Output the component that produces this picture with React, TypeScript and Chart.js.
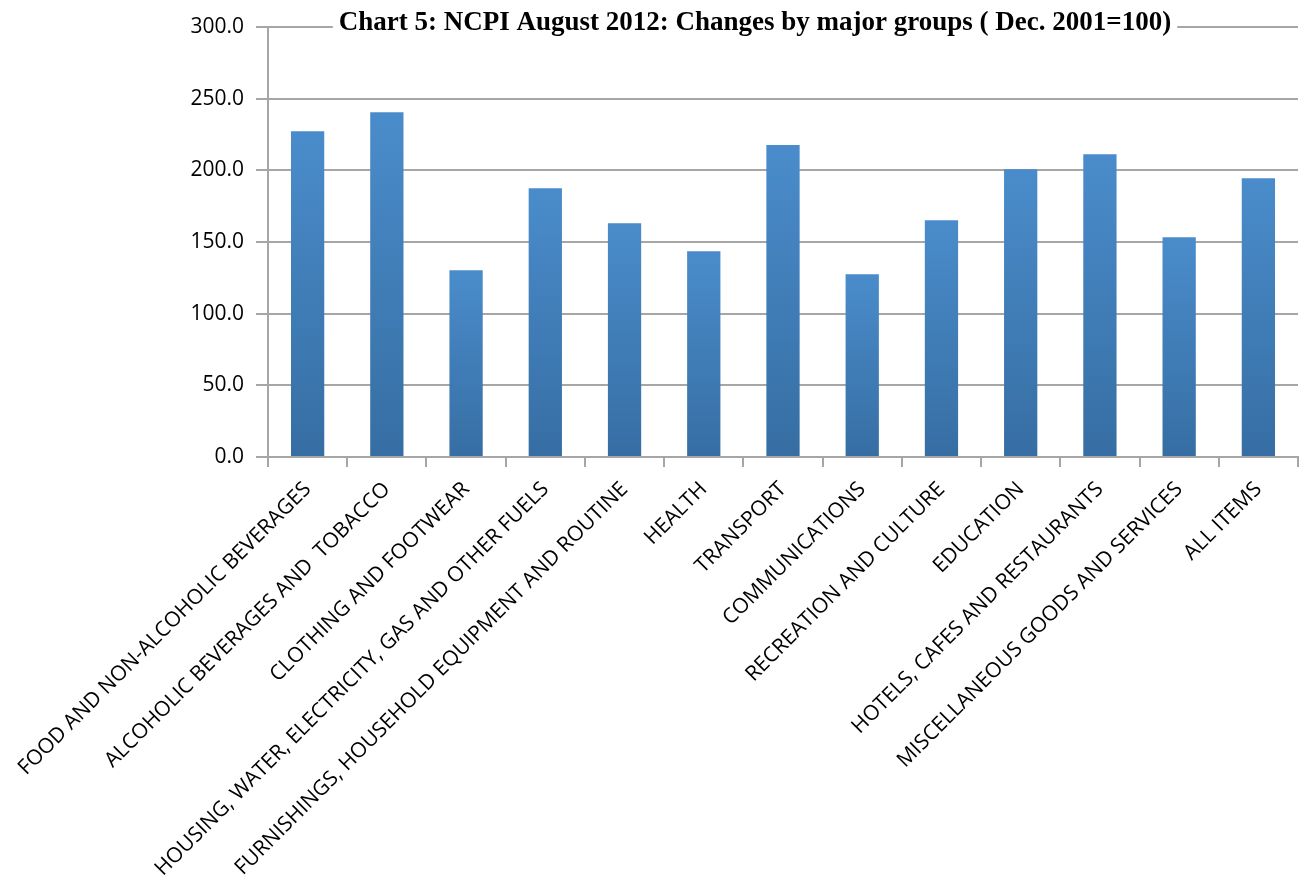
import React, { useEffect, useRef } from "react";
import { Chart, registerables } from "chart.js";

Chart.register(...registerables);

const categories: string[] = [
  "FOOD AND NON-ALCOHOLIC BEVERAGES",
  "ALCOHOLIC BEVERAGES AND  TOBACCO",
  "CLOTHING AND FOOTWEAR",
  "HOUSING, WATER, ELECTRICITY, GAS AND OTHER FUELS",
  "FURNISHINGS, HOUSEHOLD EQUIPMENT AND ROUTINE",
  "HEALTH",
  "TRANSPORT",
  "COMMUNICATIONS",
  "RECREATION AND CULTURE",
  "EDUCATION",
  "HOTELS, CAFES AND RESTAURANTS",
  "MISCELLANEOUS GOODS AND SERVICES",
  "ALL ITEMS",
];

const indexValues: number[] = [
  227.3, 240.6, 130.3, 187.5, 163.1, 143.5, 217.6, 127.5, 165.1, 200.8, 211.3, 153.3, 194.5,
];

const yTicks: number[] = [0, 50, 100, 150, 200, 250, 300];

const chartTitle = "Chart 5: NCPI August 2012: Changes by major groups ( Dec. 2001=100)";

const titlePlugin = {
  id: "overlayTitle",
  afterDraw(chart: any) {
    const ctx = chart.ctx as CanvasRenderingContext2D;
    const area = chart.chartArea;
    ctx.save();
    ctx.font = "bold 27px 'Liberation Serif', 'Times New Roman', serif";
    const w = ctx.measureText(chartTitle).width;
    const cx = 755;
    const cy = area.top - 4;
    ctx.fillStyle = "#ffffff";
    ctx.fillRect(cx - w / 2 - 6, cy - 18, w + 12, 34);
    ctx.fillStyle = "#000000";
    ctx.textAlign = "center";
    ctx.textBaseline = "middle";
    ctx.fillText(chartTitle, cx, cy);
    ctx.restore();
  },
};

export default function App() {
  const ref = useRef<HTMLCanvasElement | null>(null);

  useEffect(() => {
    document.body.style.margin = "0";
    const canvas = ref.current;
    if (!canvas) return;
    const chart = new Chart(canvas, {
      type: "bar",
      data: {
        labels: categories,
        datasets: [
          {
            label: "NCPI",
            data: indexValues,
            barPercentage: 0.42,
            categoryPercentage: 1,
            backgroundColor: (c: any) => {
              const ch = c.chart;
              const area = ch.chartArea;
              const ys = ch.scales?.y;
              if (!area || !ys || c.parsed == null) return "#4280bd";
              const top = ys.getPixelForValue(c.parsed.y);
              const bottom = ys.getPixelForValue(0);
              if (!isFinite(top) || !isFinite(bottom) || bottom - top < 1) return "#4280bd";
              const g = ch.ctx.createLinearGradient(0, top, 0, bottom);
              g.addColorStop(0, "#4a8ccb");
              g.addColorStop(1, "#366ea3");
              return g;
            },
            borderWidth: 0,
          },
        ],
      },
      options: {
        responsive: true,
        maintainAspectRatio: false,
        animation: false,
        layout: { padding: { top: 27, right: 2, left: 0, bottom: 0 } },
        plugins: {
          legend: { display: false },
          title: { display: false },
          tooltip: { enabled: false },
        },
        scales: {
          x: {
            offset: true,
            grid: {
              offset: true,
              drawOnChartArea: false,
              drawTicks: true,
              tickLength: 10,
              color: "#a6a6a6",
              lineWidth: 2,
            },
            border: { display: true, color: "#a6a6a6", width: 2 },
            ticks: {
              autoSkip: false,
              minRotation: 45,
              maxRotation: 45,
              padding: 10,
              color: "#000000",
              font: { family: "'Open Sans', sans-serif", size: 21 },
            },
            afterFit: (scale: any) => {
              scale.height = 420;
            },
          },
          y: {
            min: 0,
            max: 300,
            afterBuildTicks: (scale: any) => {
              scale.ticks = yTicks.map((v) => ({ value: v }));
            },
            grid: {
              color: "#a6a6a6",
              lineWidth: 2,
              tickLength: 12,
              drawTicks: true,
            },
            border: { display: true, color: "#a6a6a6", width: 2 },
            ticks: {
              padding: 12,
              color: "#000000",
              font: { family: "'Open Sans', sans-serif", size: 21 },
              callback: (v: any) => Number(v).toFixed(1),
            },
            afterFit: (scale: any) => {
              scale.width = 268;
            },
          },
        },
      },
      plugins: [titlePlugin],
    });
    return () => chart.destroy();
  }, []);

  return (
    <div style={{ position: "fixed", left: 0, top: 0, width: 1300, height: 877, background: "#ffffff" }}>
      <canvas ref={ref} />
    </div>
  );
}
